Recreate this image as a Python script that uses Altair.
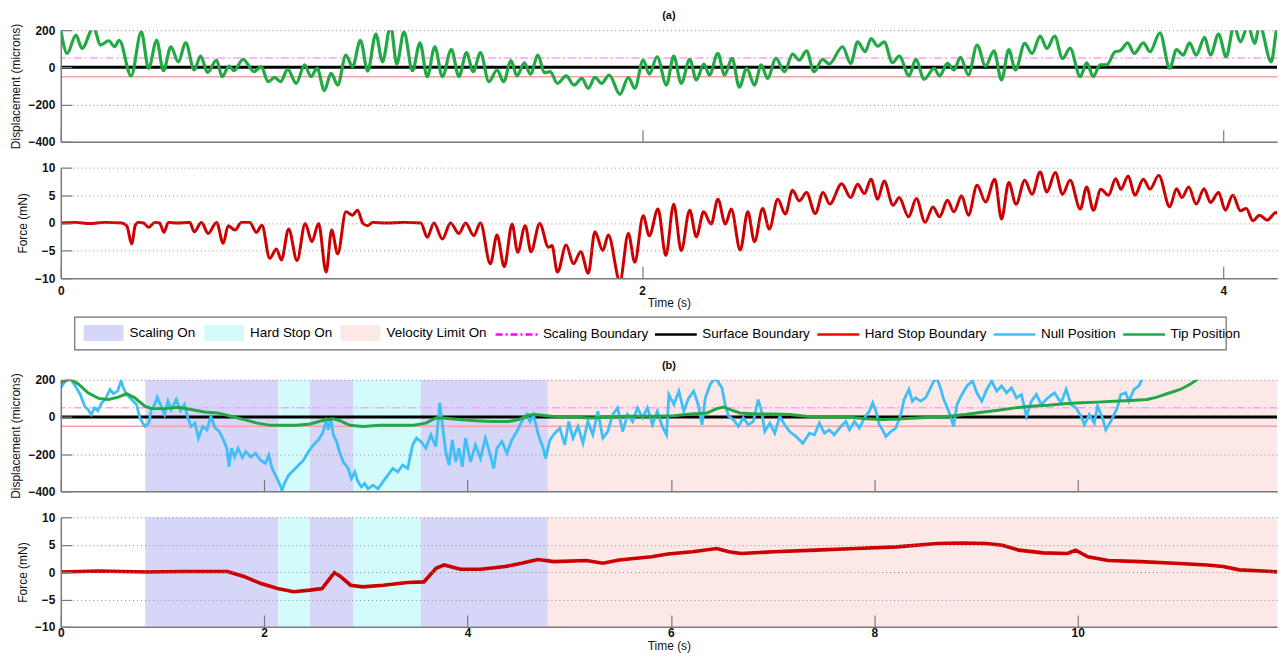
import altair as alt
import pandas as pd

FONT = "Liberation Sans"
W = 1221

# ---------------- (a) tip position (microns) ----------------
a_tip_t = [0.000, 0.022, 0.052, 0.073, 0.113, 0.136, 0.165, 0.185, 0.201, 0.242,
           0.277, 0.302, 0.330, 0.353, 0.379, 0.404, 0.430, 0.459, 0.481, 0.505,
           0.536, 0.555, 0.579, 0.596, 0.627, 0.665, 0.690, 0.713, 0.736, 0.756,
           0.781, 0.810, 0.839, 0.861, 0.882, 0.907, 0.930, 0.953, 0.981, 1.004,
           1.031, 1.056, 1.084, 1.107, 1.135, 1.156, 1.181, 1.210, 1.236, 1.261,
           1.287, 1.313, 1.344, 1.370, 1.396, 1.419, 1.444, 1.473, 1.501, 1.524,
           1.549, 1.570, 1.595, 1.616, 1.642, 1.664, 1.684, 1.709, 1.739, 1.766,
           1.793, 1.815, 1.838, 1.861, 1.887, 1.924, 1.953, 1.975, 2.004, 2.025,
           2.052, 2.084, 2.109, 2.135, 2.164, 2.187, 2.213, 2.232, 2.261, 2.284,
           2.310, 2.335, 2.360, 2.387, 2.410, 2.432, 2.461, 2.490, 2.518, 2.541,
           2.566, 2.592, 2.621, 2.644, 2.690, 2.718,
           2.742, 2.768, 2.788, 2.811, 2.833, 2.862, 2.885, 2.919, 2.942, 2.971,
           3.005, 3.024, 3.051, 3.073, 3.096, 3.123, 3.153, 3.182, 3.211, 3.237,
           3.262, 3.285, 3.317, 3.342, 3.370, 3.393, 3.420, 3.447, 3.473, 3.508,
           3.530, 3.553, 3.576, 3.599, 3.628, 3.645, 3.671, 3.694, 3.725, 3.748,
           3.782, 3.816, 3.839, 3.862, 3.884, 3.907, 3.936, 3.956, 3.984, 4.010,
           4.037, 4.059, 4.085, 4.108, 4.125, 4.165, 4.188, 4.200]
a_tip_v = [200, 75, 173, 102, 215, 120, 143, 111, 146, -46,
           191, -5, 146, -18, 111, 30, 132, -14, 61, -27,
           39, -50, 7, -18, 43, -23, 4, -77, -54, -77,
           -11, -86, 13, -50, -5, -125, -32, -95, 66, 4,
           146, -20, 179, 30, 225, 18, 191, -18, 132, -50,
           111, -50, 96, -50, 79, -23, 79, -77, -14, -77,
           36, -46, 25, -36, 66, -29, -23, -86, -46, -95,
           -59, -113, -54, -86, -41, -145, -54, -113, 39, -36,
           57, -95, 61, -86, 43, -68, 18, -41, 75, -41,
           48, -107, -5, -95, 13, -59, 48, -23, 71, 39,
           89, -23, 43, 18, 111, 21,
           137, 84, 155, 114, 137, 25, 61, -46, 43, -64,
           -5, -46, 21, -14, 54, -41, 120, 7, 89, -68,
           96, -14, 129, 75, 168, 102, 168, 48, 102, -50,
           25, -50, 13, 13, 84, 89, 132, 75, 132, 84,
           186, -5, 96, 66, 132, 66, 161, 66, 179, 57,
           225, 137, 225, 129, 225, 30, 225, 215]

# ---------------- (a) force (mN) ----------------
a_force_t = [0.000, 0.050, 0.100, 0.150, 0.210, 0.227, 0.244, 0.256, 0.267, 0.285,
             0.302, 0.324, 0.340, 0.355, 0.370, 0.400, 0.444, 0.459, 0.484, 0.507,
             0.536, 0.559, 0.576, 0.599, 0.622, 0.650, 0.673, 0.692, 0.719, 0.742,
             0.759, 0.784, 0.813, 0.841, 0.864, 0.887, 0.913, 0.932, 0.953, 0.981,
             1.004, 1.021, 1.039, 1.056, 1.073, 1.120, 1.180, 1.239, 1.261,
             1.284, 1.313, 1.341, 1.370, 1.393, 1.421, 1.444, 1.478, 1.501, 1.526,
             1.553, 1.572, 1.598, 1.618, 1.648, 1.678, 1.690, 1.709, 1.739, 1.764,
             1.789, 1.815, 1.838, 1.865, 1.884, 1.924, 1.953, 1.975, 2.004, 2.025,
             2.055, 2.082, 2.109, 2.135, 2.164, 2.187, 2.212, 2.238, 2.261, 2.287,
             2.307, 2.338, 2.364, 2.387, 2.415, 2.438, 2.467, 2.493, 2.518, 2.541,
             2.566, 2.596, 2.623, 2.646, 2.687, 2.718,
             2.742, 2.765, 2.788, 2.811, 2.833, 2.864, 2.885, 2.917, 2.944, 2.974,
             3.001, 3.024, 3.051, 3.073, 3.100, 3.123, 3.153, 3.182, 3.214, 3.237,
             3.262, 3.287, 3.317, 3.342, 3.370, 3.393, 3.422, 3.447, 3.473, 3.508,
             3.530, 3.553, 3.579, 3.605, 3.630, 3.648, 3.673, 3.696, 3.725, 3.748,
             3.778, 3.816, 3.839, 3.858, 3.881, 3.907, 3.934, 3.956, 3.984, 4.007,
             4.033, 4.059, 4.079, 4.102, 4.125, 4.151, 4.182, 4.200]
a_force_v = [0, 0.1, -0.1, 0.1, 0, -0.5, -3.8, -0.5, 0.1, 0,
             -0.8, 0.1, 0, -1.7, 0.1, 0, 0.1, -1.6, 0.1, -1.9,
             0.1, -3.7, -0.5, -1.3, 0.1, 0.1, -1.7, -0.4, -6.4, -4.7,
             -6.7, -1.1, -6.8, -0.1, -3.4, -0.1, -8.9, -1.3, -5.6, 2.0,
             1.4, 2.3, 0, -0.5, 0.1, 0, 0.1, 0, -2.6,
             0, -2.9, 0, -1.9, 0, -2.3, 0, -7.4, -2.2, -7.9,
             -0.2, -5.3, -0.5, -5.2, -0.1, -4.4, -4.1, -8.9, -4.0, -7.4,
             -5.2, -9.1, -1.6, -5.0, -2.2, -10.5, -1.9, -7.1, 1.3, -2.3,
             2.5, -5.9, 3.4, -5.0, 2.3, -2.5, 2.0, -0.2, 4.3, -0.2,
             2.5, -4.9, 2.0, -3.4, 2.6, -1.1, 4.3, 1.6, 5.9, 4.0,
             5.5, 1.7, 5.5, 3.4, 7.1, 4.6,
             7.0, 5.3, 7.9, 4.3, 7.6, 3.2, 4.6, 1.1, 4.4, 0.1,
             2.9, 1.1, 4.1, 2.0, 4.9, 1.4, 6.8, 3.8, 7.9, 0.7,
             7.3, 3.4, 7.7, 5.2, 9.2, 5.6, 9.1, 5.2, 7.7, 2.5,
             6.5, 2.3, 6.1, 5.0, 8.0, 6.1, 8.5, 5.0, 7.9, 6.1,
             8.6, 2.9, 6.2, 4.6, 6.5, 3.4, 6.2, 3.7, 5.5, 2.3,
             5.0, 2.2, 2.6, 0.4, 1.4, 0.5, 1.9, 0.5]

# ---------------- (b) null position (microns) ----------------
b_null_t = [0.000, 0.045, 0.094, 0.143, 0.192, 0.234, 0.267, 0.299, 0.332, 0.364,
            0.403, 0.436, 0.484, 0.517, 0.559, 0.592, 0.615, 0.647, 0.696, 0.745,
            0.777, 0.826, 0.865, 0.891, 0.923, 0.949, 0.982, 1.021, 1.054, 1.086,
            1.135, 1.177, 1.216, 1.249, 1.281, 1.320, 1.353, 1.395, 1.437, 1.476,
            1.515, 1.558, 1.600, 1.632, 1.655, 1.678, 1.710, 1.743, 1.785, 1.818,
            1.867, 1.915, 1.964, 2.013, 2.045, 2.078, 2.110, 2.143, 2.175, 2.198,
            2.241, 2.289, 2.338, 2.387, 2.436, 2.484, 2.533, 2.575, 2.608, 2.631,
            2.654, 2.680, 2.712, 2.745, 2.777, 2.826, 2.858, 2.891, 2.923, 2.956,
            2.988, 3.021, 3.070, 3.119, 3.167, 3.216, 3.265, 3.314, 3.362, 3.411,
            3.460, 3.499, 3.541,
            3.590, 3.639, 3.688, 3.727, 3.753, 3.785, 3.818, 3.850, 3.883, 3.915,
            3.948, 3.980, 4.029, 4.078, 4.127, 4.175, 4.224, 4.257, 4.289, 4.338,
            4.387, 4.436, 4.484, 4.533, 4.582, 4.614, 4.647, 4.696, 4.744, 4.767,
            4.810, 4.858, 4.907, 4.956, 4.995, 5.037, 5.086, 5.135, 5.183, 5.232,
            5.281, 5.330, 5.379, 5.427, 5.476, 5.525, 5.574, 5.623, 5.671, 5.720,
            5.769, 5.818, 5.866, 5.915, 5.957, 5.980, 6.029, 6.078, 6.127, 6.175,
            6.224, 6.273, 6.306, 6.338, 6.387, 6.426, 6.458, 6.501, 6.533, 6.566,
            6.614, 6.663, 6.712, 6.761, 6.810, 6.858, 6.891, 6.923, 6.972, 7.021,
            7.070, 7.118, 7.167, 7.232, 7.297, 7.362, 7.411, 7.460, 7.509, 7.557,
            7.606, 7.671, 7.720,
            7.756, 7.805, 7.854, 7.902, 7.951, 7.984, 8.016, 8.049, 8.081, 8.114,
            8.163, 8.211, 8.260, 8.293, 8.341, 8.374, 8.406, 8.455, 8.504, 8.553,
            8.585, 8.618, 8.650, 8.683, 8.732, 8.780, 8.813, 8.862, 8.911, 8.966,
            9.008, 9.057, 9.106, 9.154, 9.203, 9.252, 9.301, 9.350, 9.398, 9.447,
            9.496, 9.545, 9.593, 9.642, 9.707, 9.772, 9.837, 9.886, 9.935, 9.984,
            10.033, 10.065, 10.114, 10.163, 10.195, 10.244, 10.276, 10.325, 10.358, 10.390,
            10.423, 10.472, 10.504, 10.553, 10.602, 10.634, 10.700, 10.800]
b_null_v = [157, 194, 205, 167, 121, 58, 40, 13, 49, 34,
            76, 94, 148, 125, 139, 194, 157, 121, 94, 67,
            -5, -51, -33, 40, 67, 107, 63, 13, 85, 40,
            94, 34, 67, -5, -51, -33, -114, -51, -69, 4,
            -56, -78, -123, -168, -268, -168, -214, -168, -219, -186,
            -214, -195, -232, -250, -205, -277, -313, -349, -395, -358,
            -313, -286, -259, -232, -186, -150, -123, -87, -24, -69,
            -5, -96, -132, -195, -241, -277, -331, -295, -349, -376,
            -358, -386, -367, -386, -349, -313, -277, -295, -259, -277,
            -150, -114, -132,
            -168, -96, -159, 76, -42, -186, -259, -123, -241, -168,
            -268, -114, -241, -150, -223, -114, -205, -277, -168, -132,
            -195, -123, -78, -24, 13, -24, 13, -96, -168, -223,
            -123, -87, -60, -150, -24, -114, -51, -141, -24, -96,
            31, -114, -78, 13, 49, -78, 13, -24, 49, -5,
            49, -42, 31, -51, -96, 121, 67, 139, 31, 103,
            139, 58, -42, 103, 176, 205, 194, 157, 67, 4,
            -14, -51, -5, -42, -24, 94, 31, -78, -33, -87,
            4, -42, -78, -105, -141, -87, -96, -33, -87, -69,
            -96, -51, -24,
            -69, -24, -60, -5, 31, 76, 31, -42, -69, -105,
            -78, -60, 13, 94, 148, 85, 103, 85, 103, 157,
            194, 205, 157, 94, 31, -51, 67, 121, 167, 194,
            130, 85, 148, 194, 139, 167, 130, 157, 103, 121,
            4, 85, 121, 67, 103, 130, 76, 148, 67, 49,
            4, -42, 13, -33, 58, -5, -69, -24, 13, 49,
            121, 130, 85, 148, 167, 205, 260, 320]

# ---------------- (b) tip position (microns) ----------------
b_tip_t = [0.000, 0.045, 0.094, 0.175, 0.267, 0.371, 0.468, 0.566, 0.647, 0.728,
           0.826, 0.891, 1.021, 1.151, 1.281, 1.411, 1.541, 1.671, 1.802, 1.932,
           2.062, 2.192, 2.322, 2.452, 2.566, 2.680, 2.745, 2.842, 2.972, 3.135,
           3.297, 3.460, 3.590, 3.688, 3.753, 3.915, 4.078, 4.240, 4.403, 4.501,
           4.598, 4.663, 4.826, 5.053, 5.216, 5.379, 5.541, 5.704, 5.866, 6.029,
           6.192, 6.354, 6.452, 6.517, 6.582, 6.679, 6.842, 7.005, 7.167, 7.330,
           7.492, 7.756, 7.919, 8.081, 8.244, 8.406, 8.569, 8.732, 8.894, 9.057,
           9.219, 9.382, 9.545, 9.707, 9.870, 10.033, 10.195, 10.358, 10.520, 10.683,
           10.780, 10.878, 11.008, 11.106, 11.171, 11.250]
b_tip_v = [185, 194, 205, 176, 130, 100, 94, 107, 125, 103,
           58, 45, 45, 52, 40, 27, 22, 4, -14, -33,
           -45, -45, -45, -38, -20, -9, -20, -45, -51, -45,
           -45, -45, -33, -5, -5, -14, -20, -24, -24, -14,
           9, 13, 4, -2, -5, -2, 4, 4, 4, 7,
           16, 22, 45, 54, 40, 22, 16, 16, 13, 4,
           0, -2, -9, -14, -11, -5, -2, 4, 13, 25,
           36, 49, 58, 63, 71, 76, 80, 85, 89, 94,
           107, 125, 148, 176, 200, 230]

# ---------------- (b) force (mN) ----------------
b_force_t = [0.00, 0.37, 0.85, 1.20, 1.64, 1.80, 1.97, 2.13, 2.29, 2.45,
             2.57, 2.62, 2.69, 2.75, 2.85, 2.97, 3.17, 3.41, 3.57, 3.69,
             3.77, 3.93, 4.13, 4.37, 4.53, 4.69, 4.85, 5.17, 5.33, 5.49,
             5.81, 5.97, 6.21, 6.45, 6.57, 6.69, 7.01, 7.42, 7.82, 8.22,
             8.62, 8.86, 9.10, 9.26, 9.42, 9.66, 9.90, 9.98, 10.10, 10.30,
             10.62, 10.95, 11.27, 11.43, 11.59, 12.00]
b_force_v = [0.0, 0.2, 0.0, 0.1, 0.1, -0.8, -2.1, -3.0, -3.6, -3.3,
             -3.0, -1.8, -0.1, -0.8, -2.4, -2.7, -2.4, -1.9, -1.8, 0.7,
             1.3, 0.5, 0.5, 1.0, 1.6, 2.3, 1.9, 2.1, 1.6, 2.2,
             2.8, 3.3, 3.7, 4.3, 3.7, 3.4, 3.7, 4.0, 4.3, 4.6,
             5.2, 5.3, 5.2, 4.9, 4.0, 3.5, 3.4, 4.0, 2.8, 2.1,
             1.9, 1.6, 1.3, 1.0, 0.4, 0.0]

# ---------------- mode regions in (b) ----------------
region_start = [0.83, 2.14, 2.45, 2.88, 3.54, 4.79]
region_end = [2.14, 2.45, 2.88, 3.54, 4.79, 12.0]
region_kind = ["Scaling On", "Hard Stop On", "Scaling On", "Hard Stop On",
               "Scaling On", "Velocity Limit On"]

region_names = ["Scaling On", "Hard Stop On", "Velocity Limit On"]
region_colors = ["#d6d6f9", "#d4fbfb", "#fde8e8"]
line_names = ["Scaling Boundary", "Surface Boundary", "Hard Stop Boundary",
              "Null Position", "Tip Position"]
line_colors = ["#ff00ff", "#000000", "#ff0000", "#3fbff7", "#22a845"]

scaling_boundary = 50
surface_boundary = 0
hard_stop_boundary = -50

disp_ticks = [-400, -200, 0, 200]
force_ticks = [-10, -5, 0, 5, 10]
a_time_ticks = [0, 2, 4]
b_time_ticks = [0, 2, 4, 6, 8, 10]
a_time_range = [0, 4.185]
b_time_range = [0, 11.96]

# ---------------- styling helpers ----------------
AX = dict(domainColor="#7a7a7a", domainWidth=1.5, tickColor="#7a7a7a", tickWidth=1.2,
          labelFont=FONT, labelFontSize=12, labelFontWeight="bold", labelColor="#111111",
          titleFont=FONT, titleFontSize=12, titleFontWeight="normal", titleColor="#111111",
          zindex=1)


def x_enc(domain, ticks, labels, label_pad=19, title_y=19):
    if labels:
        ax = alt.Axis(values=ticks, grid=False, tickSize={"expr": "-12"}, labels=True,
                      labelFlush=False, labelPadding=label_pad, title="Time (s)",
                      titleY=title_y, titleBaseline="top", **AX)
    else:
        ax = alt.Axis(values=ticks, grid=False, tickSize={"expr": "-12"}, labels=False,
                      title=None, **AX)
    return alt.X("t:Q", scale=alt.Scale(domain=domain, nice=False, zero=False), axis=ax)


def y_enc(domain, ticks, title, title_x, hide_zero_grid):
    go = ({"condition": {"test": "datum.value === 0", "value": 0}, "value": 1}
          if hide_zero_grid else 1)
    ax = alt.Axis(values=ticks, grid=True, gridDash=[1, 3], gridColor="#8c8c8c", gridWidth=1,
                  gridOpacity=go, tickSize={"expr": "-11"}, labelPadding=17,
                  title=title, titleX=title_x, **AX)
    return alt.Y("v:Q", scale=alt.Scale(domain=domain, nice=False, zero=False), axis=ax)


def boundary_layers(Y):
    return [
        alt.Chart(pd.DataFrame({"v": [scaling_boundary]})).mark_rule(
            color="#ff9cff", strokeWidth=1.5, strokeDash=[8, 3, 2, 3]).encode(y=Y),
        alt.Chart(pd.DataFrame({"v": [hard_stop_boundary]})).mark_rule(
            color="#f4a3a3", strokeWidth=1.5).encode(y=Y),
        alt.Chart(pd.DataFrame({"v": [surface_boundary]})).mark_rule(
            color="#000000", strokeWidth=3).encode(y=Y),
    ]


def region_layer(X):
    df = pd.DataFrame({"t": region_start, "t2": region_end, "kind": region_kind})
    return alt.Chart(df).mark_rect(clip=True).encode(
        x=X, x2="t2:Q",
        fill=alt.Fill("kind:N", scale=alt.Scale(domain=region_names, range=region_colors),
                      legend=None))


TITLE = dict(fontSize=11, fontWeight="bold", font=FONT, anchor="middle", offset=2,
             frame="group", color="#111111")

# ---------------- panel (a) displacement ----------------
XA0 = x_enc(a_time_range, a_time_ticks, False)
YD = y_enc([-400, 200], disp_ticks, "Displacement (microns)", -38, True)
tip_a = alt.Chart(pd.DataFrame({"t": a_tip_t, "v": a_tip_v})).mark_line(
    color="#22a845", strokeWidth=3.2, interpolate="monotone", clip=True).encode(x=XA0, y=YD)
p1 = alt.layer(*boundary_layers(YD), tip_a).properties(
    width=W, height=112, title=alt.TitleParams("(a)", **TITLE))

# ---------------- panel (a) force ----------------
XA1 = x_enc(a_time_range, a_time_ticks, True, 19, 19)
YF = y_enc([-10, 10], force_ticks, "Force (mN)", -31, False)
p2 = alt.Chart(pd.DataFrame({"t": a_force_t, "v": a_force_v})).mark_line(
    color="#cc0000", strokeWidth=3, interpolate="monotone", clip=True).encode(
    x=XA1, y=YF).properties(width=W, height=111)

# ---------------- legend panel ----------------
box = alt.Chart(pd.DataFrame({"k": [0]})).mark_rect(
    fill="white", stroke="#6e6e6e", strokeWidth=1.2).encode(
    x=alt.value(14), x2=alt.value(1170), y=alt.value(13), y2=alt.value(46))
LEG = dict(orient="none", direction="horizontal", title=None, labelFont=FONT,
           labelFontSize=13.5, labelColor="#000000", labelLimit=400, padding=0)
fill_leg = alt.Chart(pd.DataFrame({"kind": region_names})).mark_rect().encode(
    x=alt.value(0), x2=alt.value(0), y=alt.value(0), y2=alt.value(0),
    fill=alt.Fill("kind:N", scale=alt.Scale(domain=region_names, range=region_colors),
                  legend=alt.Legend(legendX=23, legendY=9, symbolType="M-1,-0.4H1V0.4H-1Z",
                                    symbolSize=1600, symbolStrokeWidth=0, labelOffset=6,
                                    columnPadding=8, **LEG)))
line_legend = alt.Legend(legendX=435, legendY=8, symbolType="stroke", symbolSize=1764,
                         symbolStrokeWidth=2.5, labelOffset=4, columnPadding=1, **LEG)
line_leg = alt.Chart(pd.DataFrame({"series": line_names})).mark_rule().encode(
    x=alt.value(0), x2=alt.value(0), y=alt.value(0), y2=alt.value(0),
    stroke=alt.Stroke("series:N", scale=alt.Scale(domain=line_names, range=line_colors),
                      legend=line_legend),
    strokeDash=alt.StrokeDash("series:N",
                              scale=alt.Scale(domain=line_names,
                                              range=[[7, 3, 2, 3], [1, 0], [1, 0], [1, 0], [1, 0]]),
                              legend=line_legend))
leg = alt.layer(box, fill_leg, line_leg).properties(width=W, height=50)

# ---------------- panel (b) displacement ----------------
XB0 = x_enc(b_time_range, b_time_ticks, False)
YD2 = y_enc([-400, 200], disp_ticks, "Displacement (microns)", -38, True)
null_b = alt.Chart(pd.DataFrame({"t": b_null_t, "v": b_null_v})).mark_line(
    color="#3fbff7", strokeWidth=2.8, clip=True).encode(x=XB0, y=YD2)
tip_b = alt.Chart(pd.DataFrame({"t": b_tip_t, "v": b_tip_v})).mark_line(
    color="#22a845", strokeWidth=3, clip=True).encode(x=XB0, y=YD2)
p3 = alt.layer(region_layer(XB0), *boundary_layers(YD2), null_b, tip_b).properties(
    width=W, height=112, title=alt.TitleParams("(b)", **TITLE))

# ---------------- panel (b) force ----------------
XB1 = x_enc(b_time_range, b_time_ticks, True, 13, 14)
YF2 = y_enc([-10, 10], force_ticks, "Force (mN)", -31, False)
force_b = alt.Chart(pd.DataFrame({"t": b_force_t, "v": b_force_v})).mark_line(
    color="#cc0000", strokeWidth=3.6, clip=True).encode(x=XB1, y=YF2)
p4 = alt.layer(region_layer(XB1), force_b).properties(width=W, height=110)

chart = alt.vconcat(p1, p2, leg, p3, p4, spacing=26).properties(
    bounds="flush", padding={"left": 1, "top": 0, "right": 0, "bottom": 0}
).resolve_scale(
    fill="independent", stroke="independent", strokeDash="independent"
).resolve_legend(
    fill="independent", stroke="independent", strokeDash="independent"
).configure(font=FONT, background="white").configure_view(stroke=None)

chart.save("out.html", embed_options={"renderer": "svg", "actions": False})
